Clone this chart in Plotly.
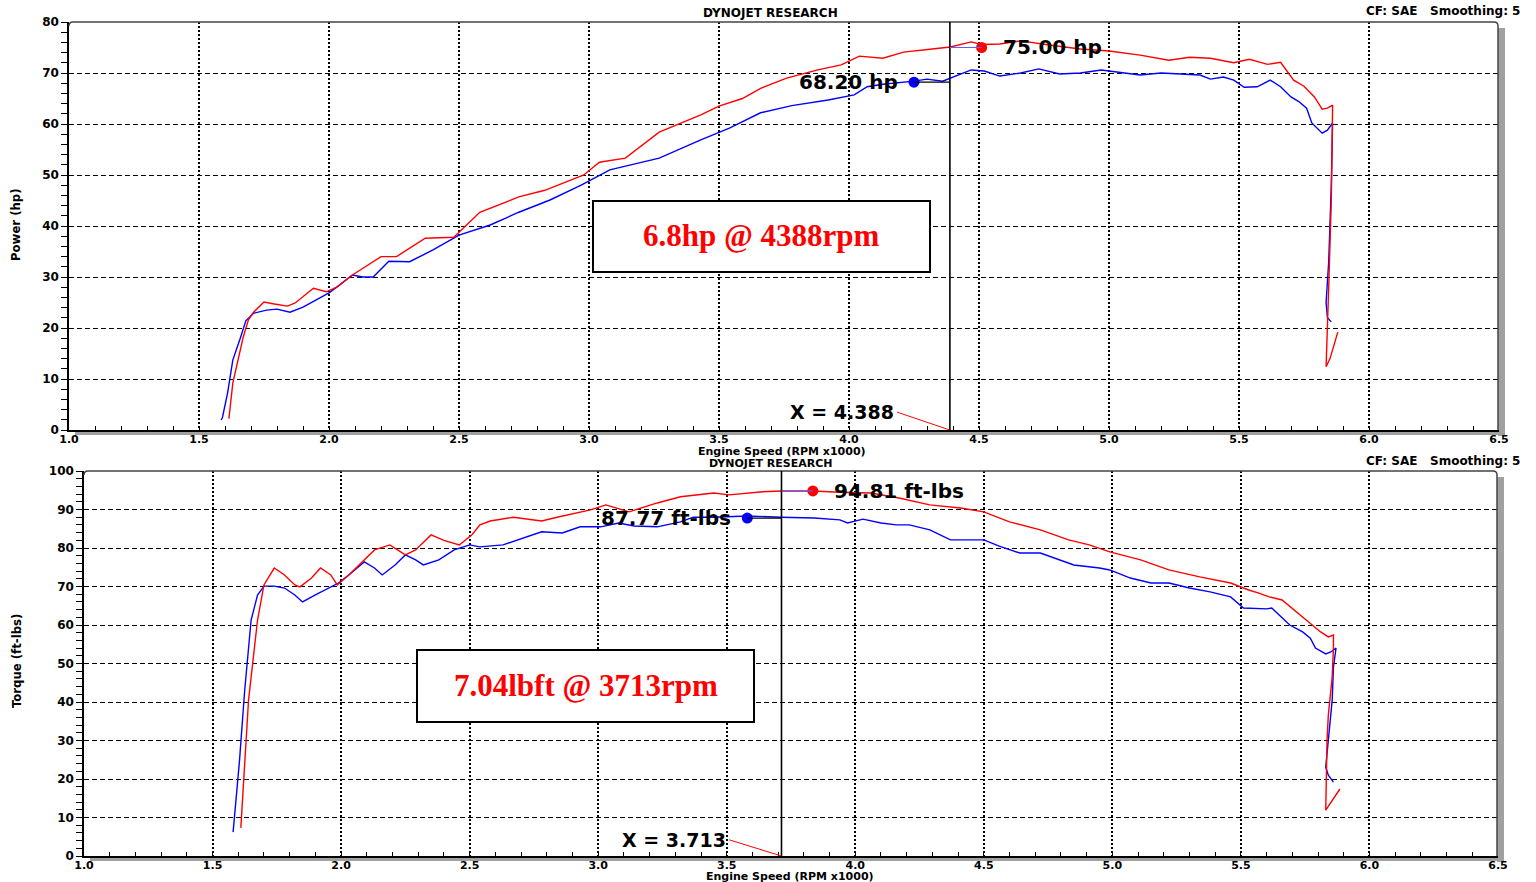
import plotly.graph_objects as go

# ---------------- data ----------------
power_after_rpm = [1.615, 1.63, 1.67, 1.69, 1.71, 1.75, 1.79, 1.84, 1.87, 1.94,
                   1.99, 2.03, 2.09, 2.15, 2.20, 2.26, 2.31, 2.37, 2.48, 2.58,
                   2.73, 2.83, 2.98, 3.04, 3.14, 3.27, 3.43, 3.50, 3.59, 3.66,
                   3.76, 3.88, 3.97, 4.04, 4.13, 4.21, 4.32, 4.39, 4.47, 4.51,
                   4.58, 4.66, 4.77, 4.89, 5.00, 5.12, 5.23, 5.31, 5.39, 5.48,
                   5.54, 5.61, 5.66, 5.71, 5.75, 5.79, 5.82, 5.84, 5.86, 5.855,
                   5.845, 5.835, 5.85, 5.865, 5.88]
power_after_hp = [2.2, 9.2, 18.2, 21.6, 23.1, 25.1, 24.7, 24.3, 24.9, 27.8,
                  27.1, 28.0, 30.4, 32.4, 34.0, 34.0, 35.7, 37.6, 37.8, 42.7,
                  45.7, 47.0, 50.0, 52.5, 53.3, 58.4, 61.8, 63.5, 65.0, 67.0,
                  69.0, 70.6, 71.6, 73.3, 72.9, 74.1, 74.7, 75.1, 76.1, 75.6,
                  75.7, 76.3, 75.5, 74.7, 74.3, 73.5, 72.5, 73.1, 72.9, 72.0,
                  72.7, 71.7, 72.1, 68.6, 67.4, 65.3, 62.9, 63.1, 63.7, 45.0,
                  28.0, 12.4, 14.0, 16.5, 19.2]

power_before_rpm = [1.585, 1.59, 1.61, 1.63, 1.66, 1.68, 1.71, 1.76, 1.80, 1.85,
                    1.90, 1.95, 2.00, 2.04, 2.09, 2.13, 2.17, 2.23, 2.31, 2.40,
                    2.50, 2.62, 2.73, 2.85, 2.97, 3.08, 3.20, 3.27, 3.43, 3.54,
                    3.66, 3.78, 3.92, 4.02, 4.07, 4.13, 4.25, 4.30, 4.36, 4.39,
                    4.47, 4.52, 4.58, 4.66, 4.73, 4.81, 4.89, 4.97, 5.04, 5.12,
                    5.20, 5.27, 5.35, 5.39, 5.44, 5.48, 5.52, 5.57, 5.62, 5.66,
                    5.70, 5.73, 5.76, 5.78, 5.82, 5.84, 5.86, 5.855, 5.845, 5.835,
                    5.84, 5.855]
power_before_hp = [2.0, 2.4, 7.3, 13.7, 18.2, 21.4, 22.9, 23.5, 23.7, 23.1,
                   24.1, 25.5, 26.9, 28.4, 30.4, 30.0, 30.0, 33.1, 33.0, 35.3,
                   38.2, 40.2, 42.7, 45.1, 48.0, 51.0, 52.4, 53.3, 56.9, 59.2,
                   62.2, 63.6, 64.7, 65.7, 67.3, 67.8, 68.4, 68.8, 68.4, 69.0,
                   70.6, 70.4, 69.4, 70.0, 70.8, 69.8, 70.0, 70.6, 70.2, 69.6,
                   70.0, 69.8, 69.6, 68.8, 69.2, 68.6, 67.2, 67.3, 68.6, 67.3,
                   65.3, 64.4, 63.1, 60.2, 58.2, 58.8, 60.2, 48.0, 33.0, 25.0,
                   22.0, 21.2]

torque_after_rpm = [1.61, 1.64, 1.675, 1.70, 1.74, 1.78, 1.82, 1.84, 1.885, 1.92,
                    1.96, 1.985, 2.03, 2.09, 2.13, 2.19, 2.25, 2.29, 2.35, 2.40,
                    2.46, 2.51, 2.54, 2.58, 2.67, 2.78, 2.84, 2.97, 3.03, 3.12,
                    3.23, 3.32, 3.45, 3.51, 3.64, 3.71, 3.835, 3.94, 4.06, 4.17,
                    4.29, 4.41, 4.50, 4.60, 4.72, 4.83, 4.91, 4.99, 5.11, 5.22,
                    5.34, 5.46, 5.53, 5.57, 5.61, 5.66, 5.72, 5.77, 5.81, 5.84,
                    5.86, 5.86, 5.855, 5.84, 5.835, 5.83, 5.855, 5.885]
torque_after_ftlb = [7.3, 40.5, 61.3, 70.4, 74.8, 73.0, 70.4, 69.9, 72.2, 74.8,
                     73.0, 70.4, 73.0, 76.9, 79.5, 80.8, 78.2, 79.5, 83.4, 82.0,
                     80.8, 83.5, 86.0, 87.0, 88.0, 87.0, 88.0, 89.9, 91.2, 89.4,
                     91.7, 93.3, 94.3, 93.8, 94.6, 94.8, 94.8, 94.5, 94.3, 93.0,
                     91.2, 90.4, 89.4, 86.8, 84.7, 82.1, 80.8, 79.0, 76.9, 74.3,
                     72.5, 70.9, 69.1, 68.3, 67.3, 66.5, 63.1, 60.5, 58.2, 56.9,
                     57.4, 54.3, 46.5, 36.6, 30.1, 11.9, 14.5, 17.4]

torque_before_rpm = [1.58, 1.605, 1.625, 1.65, 1.675, 1.70, 1.74, 1.78, 1.82, 1.85,
                     1.90, 1.94, 1.99, 2.03, 2.09, 2.13, 2.16, 2.21, 2.25, 2.29,
                     2.32, 2.38, 2.44, 2.50, 2.54, 2.63, 2.71, 2.78, 2.86, 2.93,
                     3.01, 3.08, 3.14, 3.23, 3.32, 3.37, 3.45, 3.58, 3.71, 3.84,
                     3.94, 3.97, 4.03, 4.10, 4.16, 4.21, 4.29, 4.37, 4.44, 4.50,
                     4.56, 4.64, 4.72, 4.80, 4.85, 4.95, 4.99, 5.07, 5.15, 5.22,
                     5.30, 5.38, 5.46, 5.51, 5.60, 5.62, 5.69, 5.74, 5.77, 5.79,
                     5.83, 5.85, 5.87, 5.86, 5.855, 5.84, 5.83, 5.84, 5.86]
torque_before_ftlb = [6.2, 24.9, 43.0, 61.3, 67.8, 70.1, 70.1, 69.6, 67.8, 66.0,
                      67.8, 69.1, 70.9, 73.0, 76.4, 74.8, 73.0, 75.6, 78.2, 76.9,
                      75.6, 76.9, 79.5, 80.8, 80.3, 80.8, 82.6, 84.2, 83.9, 85.5,
                      85.5, 86.5, 85.7, 85.5, 86.8, 88.0, 88.0, 88.3, 88.0, 87.8,
                      87.3, 86.5, 87.5, 86.5, 86.0, 86.0, 84.7, 82.1, 82.1, 82.1,
                      80.5, 78.7, 78.7, 76.9, 75.6, 74.8, 74.3, 72.2, 70.9, 70.9,
                      69.6, 68.6, 67.3, 64.4, 64.2, 64.4, 60.0, 58.2, 56.6, 54.0,
                      52.5, 53.0, 54.0, 49.1, 40.5, 30.1, 23.1, 21.0, 19.2]

# peak markers: [after, before]
power_peak_rpm = [4.51, 4.25]
power_peak_hp = [75.00, 68.20]
power_peak_labels = ["75.00 hp", "68.20 hp"]
torque_peak_rpm = [3.835, 3.58]
torque_peak_ftlb = [94.81, 87.77]
torque_peak_labels = ["94.81 ft-lbs", "87.77 ft-lbs"]

power_cursor_rpm = 4.388
torque_cursor_rpm = 3.713
power_cursor_label = "X = 4.388"
torque_cursor_label = "X = 3.713"
power_gain_text = "6.8hp @ 4388rpm"
torque_gain_text = "7.04lbft @ 3713rpm"

x_tick_vals = [1.0, 1.5, 2.0, 2.5, 3.0, 3.5, 4.0, 4.5, 5.0, 5.5, 6.0, 6.5]
x_tick_labels = ["1.0", "1.5", "2.0", "2.5", "3.0", "3.5", "4.0", "4.5", "5.0", "5.5", "6.0", "6.5"]
power_tick_vals = [0, 10, 20, 30, 40, 50, 60, 70, 80]
torque_tick_vals = [0, 10, 20, 30, 40, 50, 60, 70, 80, 90, 100]

chart_title = "DYNOJET RESEARCH"
chart_info = "CF: SAE\u00a0\u00a0 Smoothing: 5"
x_title = "Engine Speed (RPM x1000)"
power_title = "Power (hp)"
torque_title = "Torque (ft-lbs)"

# ---------------- layout helpers ----------------
W, H = 1536, 882
def fx(p):
    return p / W
def fy(p):
    return 1 - p / H

RED = "#ff0000"
BLUE = "#0000ff"
BOLD = dict(family="DejaVu Sans", size=12, color="#000", weight="bold")
XBOLD = dict(family="DejaVu Sans", size=11, color="#000", weight="bold")
NARROW = "Liberation Sans Narrow, DejaVu Sans Condensed, Liberation Sans, sans-serif"

# pixel frame of each panel: left, right, top, bottom
TOP = (69, 1499, 22, 430)
BOT = (84, 1498, 471, 856)

fig = go.Figure()

def curves(xa, ya, xb, yb, xr, yr):
    fig.add_trace(go.Scatter(x=xb, y=yb, mode="lines", line=dict(color=BLUE, width=1.4),
                             xaxis=xr, yaxis=yr, showlegend=False, hoverinfo="skip"))
    fig.add_trace(go.Scatter(x=xa, y=ya, mode="lines", line=dict(color=RED, width=1.4),
                             xaxis=xr, yaxis=yr, showlegend=False, hoverinfo="skip"))

curves(power_after_rpm, power_after_hp, power_before_rpm, power_before_hp, "x", "y")
curves(torque_after_rpm, torque_after_ftlb, torque_before_rpm, torque_before_ftlb, "x2", "y2")

# peak markers
for xs, ys, xr, yr in [(power_peak_rpm, power_peak_hp, "x", "y"),
                       (torque_peak_rpm, torque_peak_ftlb, "x2", "y2")]:
    fig.add_trace(go.Scatter(x=xs, y=ys, mode="markers",
                             marker=dict(color=[RED, BLUE], size=11, line=dict(width=0)),
                             xaxis=xr, yaxis=yr, showlegend=False, hoverinfo="skip",
                             cliponaxis=False))

def xaxis_cfg(frame):
    l, r, t, b = frame
    return dict(domain=[fx(l), fx(r)], range=[1.0, 6.5], tickmode="array",
                tickvals=x_tick_vals, ticktext=x_tick_labels,
                showgrid=True, gridcolor="#000", griddash="2px,2px", gridwidth=1.6,
                showline=True, linecolor="#000", linewidth=1.5,
                ticks="inside", ticklen=4, tickcolor="#000", tickwidth=1.2,
                minor=dict(tickmode="linear", tick0=1.0, dtick=0.1, ticks="inside",
                           ticklen=4, tickcolor="#000", tickwidth=1.2, showgrid=False),
                tickfont=XBOLD, ticklabelstandoff=-2,
                zeroline=False, fixedrange=True, automargin=False)

def yaxis_cfg(frame, vals, xa):
    l, r, t, b = frame
    return dict(domain=[fy(b), fy(t)], range=[vals[0], vals[-1]], tickmode="array",
                tickvals=vals, ticktext=[str(v) for v in vals], anchor=xa,
                showgrid=True, gridcolor="#000", griddash="5px,3px", gridwidth=1,
                showline=True, linecolor="#000", linewidth=1.5,
                ticks="outside", ticklen=6, tickcolor="#000", tickwidth=1.2,
                minor=dict(tickmode="linear", tick0=0, dtick=2, ticks="outside",
                           ticklen=6, tickcolor="#000", tickwidth=1.2, showgrid=False),
                tickfont=BOLD, zeroline=False, fixedrange=True, automargin=False)

def yover_cfg(vals, base, xa):
    return dict(overlaying=base, anchor=xa, side="left", range=[vals[0], vals[-1]],
                tickmode="array", tickvals=vals, showticklabels=False,
                showgrid=False, showline=False, zeroline=False,
                ticks="inside", ticklen=6, tickcolor="#000", tickwidth=1.2,
                minor=dict(tickmode="linear", tick0=0, dtick=2, ticks="inside",
                           ticklen=6, tickcolor="#000", tickwidth=1.2, showgrid=False),
                fixedrange=True, automargin=False)

xa1 = xaxis_cfg(TOP); xa1["anchor"] = "y"
xa2 = xaxis_cfg(BOT); xa2["anchor"] = "y2"

shapes = []
annotations = []

def panel_frame(frame):
    l, r, t, b = frame
    # gray shadow right + bottom
    shapes.append(dict(type="rect", xref="paper", yref="paper", layer="below",
                       x0=fx(r - 1), x1=fx(r + 6), y0=fy(b + 6), y1=fy(t + 6),
                       fillcolor="#a0a0a0", line=dict(width=0)))
    shapes.append(dict(type="rect", xref="paper", yref="paper", layer="below",
                       x0=fx(l + 6), x1=fx(r + 6), y0=fy(b + 5), y1=fy(b),
                       fillcolor="#a0a0a0", line=dict(width=0)))
    # top / right border with rounded corners
    path = (f"M {fx(l)},{fy(t + 4)} Q {fx(l)},{fy(t)} {fx(l + 4)},{fy(t)} "
            f"L {fx(r - 5)},{fy(t)} Q {fx(r - 1)},{fy(t)} {fx(r - 1)},{fy(t + 4)} "
            f"L {fx(r - 1)},{fy(b)}")
    shapes.append(dict(type="path", xref="paper", yref="paper", path=path,
                       line=dict(color="#444", width=1.5)))

panel_frame(TOP)
panel_frame(BOT)

def cursor_bits(xr, yr, cursor, label, peak_x, peak_y, peak_labels, lead_dx, lead_y,
                gain_text, box):
    # cursor vertical line
    shapes.append(dict(type="line", xref=xr, yref=yr + " domain", x0=cursor, x1=cursor,
                       y0=0, y1=1, line=dict(color="#000", width=1.6)))
    # leader line from label to cursor foot
    shapes.append(dict(type="line", xref=xr, yref=yr, x0=cursor - lead_dx, x1=cursor,
                       y0=lead_y, y1=0, line=dict(color=RED, width=1)))
    # connectors from peak markers to cursor
    shapes.append(dict(type="line", xref=xr, yref=yr, x0=peak_x[1], x1=cursor,
                       y0=peak_y[1], y1=peak_y[1], line=dict(color="#000", width=1.2)))
    shapes.append(dict(type="line", xref=xr, yref=yr, x0=cursor, x1=peak_x[0],
                       y0=peak_y[0], y1=peak_y[0], line=dict(color="#6060ff", width=1.2)))
    annotations.append(dict(xref=xr, yref=yr, x=cursor - lead_dx, y=lead_y, text=label,
                            showarrow=False, xanchor="right", yanchor="middle", xshift=-1,
                            font=dict(family="DejaVu Sans", size=19, color="#000", weight="bold")))
    # peak labels
    annotations.append(dict(xref=xr, yref=yr, x=peak_x[0], y=peak_y[0], text=peak_labels[0],
                            showarrow=False, xanchor="left", yanchor="middle", xshift=19,
                            font=dict(family="DejaVu Sans", size=20, color="#000", weight="bold")))
    annotations.append(dict(xref=xr, yref=yr, x=peak_x[1], y=peak_y[1], text=peak_labels[1],
                            showarrow=False, xanchor="right", yanchor="middle", xshift=-14,
                            font=dict(family="DejaVu Sans", size=20, color="#000", weight="bold")))
    # gain box
    bl, br, bt, bb = box
    shapes.append(dict(type="rect", xref="paper", yref="paper", x0=fx(bl), x1=fx(br),
                       y0=fy(bb), y1=fy(bt), fillcolor="#fff",
                       line=dict(color="#000", width=2)))
    annotations.append(dict(xref="paper", yref="paper", x=fx((bl + br) / 2),
                            y=fy((bt + bb) / 2 - 1), text=gain_text, showarrow=False,
                            xanchor="center", yanchor="middle",
                            font=dict(family="Liberation Serif", size=31, color=RED, weight="bold")))

cursor_bits("x", "y", power_cursor_rpm, power_cursor_label, power_peak_rpm, power_peak_hp,
            power_peak_labels, 0.203, 3.5, power_gain_text, (593, 930, 201, 272))
cursor_bits("x2", "y2", torque_cursor_rpm, torque_cursor_label, torque_peak_rpm,
            torque_peak_ftlb, torque_peak_labels, 0.203, 4.2, torque_gain_text,
            (417, 754, 650, 722))

# titles
def text(xp, yp, s, anchor="center", size=12, family="DejaVu Sans", angle=0):
    annotations.append(dict(xref="paper", yref="paper", x=fx(xp), y=fy(yp), text=s,
                            showarrow=False, xanchor=anchor, yanchor="middle", textangle=angle,
                            borderpad=0,
                            font=dict(family=family, size=size, color="#000", weight="bold")))

text(770, 13, chart_title, size=12)
text(1521, 11, chart_info, anchor="right", size=12)
text(782, 451, x_title, size=11)
text(770, 464, chart_title, size=11)
text(1521, 461, chart_info, anchor="right", size=12)
text(790, 876, x_title, size=11)
text(16, 225, power_title, size=13, family=NARROW, angle=-90)
text(16, 661, torque_title, size=13, family=NARROW, angle=-90)

fig.update_layout(
    width=W, height=H, margin=dict(l=0, r=0, t=0, b=0, pad=0, autoexpand=False),
    paper_bgcolor="#fff", plot_bgcolor="#fff",
    xaxis=xa1, xaxis2=xa2,
    yaxis=yaxis_cfg(TOP, power_tick_vals, "x"),
    yaxis2=yaxis_cfg(BOT, torque_tick_vals, "x2"),
    yaxis3=yover_cfg(power_tick_vals, "y", "x"),
    yaxis4=yover_cfg(torque_tick_vals, "y2", "x2"),
    shapes=shapes, annotations=annotations, showlegend=False,
)

fig.write_html("out.html", include_plotlyjs=True, config={"displayModeBar": False},
               post_script="document.body.style.margin='0';document.body.style.overflow='hidden';")
